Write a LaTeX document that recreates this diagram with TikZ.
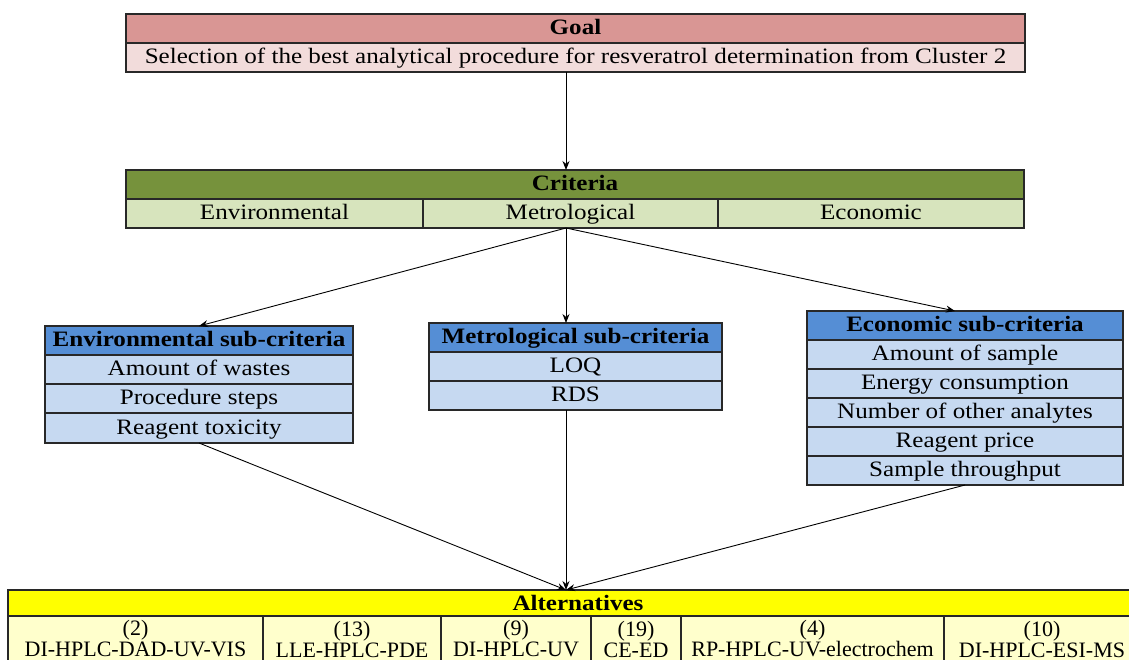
\documentclass[tikz,border=0pt]{standalone}
\usepackage{fontspec}
\setmainfont[FakeStretch=1.14]{Liberation Serif}
\newfontfamily\altfont{Liberation Serif}
\usetikzlibrary{arrows.meta}
\definecolor{goalH}{RGB}{217,150,148}
\definecolor{goalR}{RGB}{242,220,219}
\definecolor{critH}{RGB}{118,146,60}
\definecolor{critR}{RGB}{215,228,189}
\definecolor{subH}{RGB}{85,142,213}
\definecolor{subR}{RGB}{198,217,241}
\definecolor{altH}{RGB}{255,255,0}
\definecolor{altR}{RGB}{255,255,204}
\definecolor{edge}{RGB}{40,40,40}
\tikzset{
  cell/.style={draw=edge, line width=1.3pt, inner sep=0pt, outer sep=0pt, align=center,
    text height=16pt, text depth=3.5pt, font=\fontsize{22}{21}\selectfont},
  head/.style={cell, font=\fontsize{22}{21}\selectfont\bfseries},
  altcell/.style={draw=edge, line width=1.3pt, inner sep=0pt, outer sep=0pt, align=center,
    fill=altR, minimum height=46, font=\altfont\fontsize{22}{21}\selectfont},
  conn/.style={draw=black, line width=0.9pt, -{Stealth[length=9pt,width=7pt]}}
}
\begin{document}
\begin{tikzpicture}[x=1pt,y=-1pt]
\useasboundingbox (0,0) rectangle (1129,659);
\clip (0,0) rectangle (1129,659);
% Goal
\node[head, fill=goalH, minimum width=899, minimum height=29] (goalh) at (575.5,28.5) {Goal};
\node[cell, fill=goalR, minimum width=899, minimum height=29] (goalr) at (575.5,57.5) {Selection of the best analytical procedure for resveratrol determination from Cluster 2};
% Criteria
\node[head, fill=critH, minimum width=898, minimum height=29] (crith) at (575,184.5) {Criteria};
\node[cell, fill=critR, minimum width=297, minimum height=29] (critenv) at (274.5,213.5) {Environmental};
\node[cell, fill=critR, minimum width=295, minimum height=29] (critmet) at (570.5,213.5) {Metrological};
\node[cell, fill=critR, minimum width=306, minimum height=29] (criteco) at (871,213.5) {Economic};
\coordinate (hubtop) at (566,72);
\coordinate (hub) at (566,228);
% Environmental sub-criteria
\node[head, fill=subH, minimum width=308, minimum height=29] (envh) at (199,340.5) {Environmental sub-criteria};
\node[cell, fill=subR, minimum width=308, minimum height=29] (env1) at (199,369.5) {Amount of wastes};
\node[cell, fill=subR, minimum width=308, minimum height=29] (env2) at (199,398.5) {Procedure steps};
\node[cell, fill=subR, minimum width=308, minimum height=30] (env3) at (199,428) {Reagent toxicity};
% Metrological sub-criteria
\node[head, fill=subH, minimum width=293, minimum height=29] (meth) at (575.5,337.5) {Metrological sub-criteria};
\node[cell, fill=subR, minimum width=293, minimum height=29] (met1) at (575.5,366.5) {LOQ};
\node[cell, fill=subR, minimum width=293, minimum height=29] (met2) at (575.5,395.5) {RDS};
% Economic sub-criteria
\node[head, fill=subH, minimum width=316, minimum height=29] (ecoh) at (965,325.5) {Economic sub-criteria};
\node[cell, fill=subR, minimum width=316, minimum height=29] (eco1) at (965,354.5) {Amount of sample};
\node[cell, fill=subR, minimum width=316, minimum height=29] (eco2) at (965,383.5) {Energy consumption};
\node[cell, fill=subR, minimum width=316, minimum height=29] (eco3) at (965,412.5) {Number of other analytes};
\node[cell, fill=subR, minimum width=316, minimum height=29] (eco4) at (965,441.5) {Reagent price};
\node[cell, fill=subR, minimum width=316, minimum height=29] (eco5) at (965,470.5) {Sample throughput};
% Alternatives
\node[head, fill=altH, minimum width=1140, minimum height=28] (alth) at (578,604) {Alternatives};
\node[altcell, minimum width=255] (alt1) at (135.5,639) {(2)\\DI-HPLC-DAD-UV-VIS};
\node[altcell, minimum width=178] (alt2) at (352,639) {(13)\\LLE-HPLC-PDE};
\node[altcell, minimum width=150] (alt3) at (516,639) {(9)\\DI-HPLC-UV};
\node[altcell, minimum width=90] (alt4) at (636,639) {(19)\\CE-ED};
\node[altcell, minimum width=263] (alt5) at (812.5,639) {(4)\\RP-HPLC-UV-electrochem};
\node[altcell, minimum width=196] (alt6) at (1042,639) {(10)\\DI-HPLC-ESI-MS};
\coordinate (altin) at (566,590);
% Connectors
\draw[conn] (goalr.south -| hubtop) -- (crith.north -| hubtop);
\draw[conn] (hub) -- (envh.north);
\draw[conn] (hub) -- (meth.north -| hub);
\draw[conn] (hub) -- (ecoh.north -| 955,0);
\draw[conn] (env3.south) -- (altin);
\draw[conn] (met2.south -| hub) -- (altin);
\draw[conn] (eco5.south) -- (altin);
\end{tikzpicture}
\end{document}
